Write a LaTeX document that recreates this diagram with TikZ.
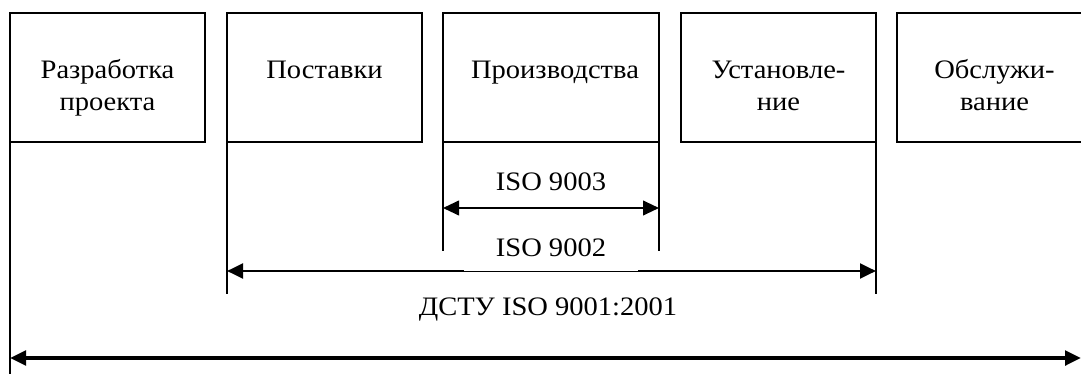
\documentclass[tikz,border=0pt]{standalone}
\usepackage{fontspec}
\setmainfont[FakeStretch=1.07]{Liberation Serif}
\usetikzlibrary{arrows.meta}
\begin{document}
\begin{tikzpicture}[x=0.75pt,y=-0.75pt,>={Triangle[length=12pt,width=11pt]},
  stage/.style={draw,line width=1.2pt,minimum width=146.25pt,minimum height=96.75pt,inner sep=0pt,outer sep=0pt},
  stagetxt/.style={anchor=base,align=center,inner sep=0pt,font=\fontsize{20}{24}\selectfont},
  lbl/.style={anchor=base,inner sep=0pt,font=\fontsize{20}{24}\selectfont},
  tick/.style={line width=1.1pt}]
\useasboundingbox (0,0) rectangle (1081,374);
\clip (0,0) rectangle (1081,374);
% этапы
    \node[stage] (razr) at (107.5,77.5) {};
    \node[stage] (post) at (324.5,77.5) {};
    \node[stage,minimum width=162pt] (proizv) at (551,77.5) {};
    \node[stage] (ustan) at (778.5,77.5) {};
    \node[stage] (obsl) at (994.5,77.5) {};
    \node[stagetxt] (razrT) at (107.5,110.5) {Разработка\\проекта};
    \node[stagetxt] (postT) at (324.5,78.5) {Поставки};
    \node[stagetxt] (proizvT) at (555,78.5) {Производства};
    \node[stagetxt] (ustanT) at (778.5,110.5) {Установле-\\ние};
    \node[stagetxt] (obslT) at (994.5,110.5) {Обслужи-\\вание};
% границы
    \coordinate (razrB) at (10,374);
    \coordinate (postB) at (227,294);
    \coordinate (proizvBl) at (443,251);
    \coordinate (proizvBr) at (659,251);
    \coordinate (ustanB) at (876,294);
    \draw[tick](razr.south west)--(razrB);
    \draw[tick](post.south west)--(postB);
    \draw[tick](proizv.south west)--(proizvBl);
    \draw[tick](proizv.south east)--(proizvBr);
    \draw[tick](ustan.south east)--(ustanB);
% стандарты
    \coordinate (s3l) at (443,208);
    \coordinate (s3r) at (659,208);
    \coordinate (s2l) at (227,271);
    \coordinate (s2r) at (876,271);
    \coordinate (s1l) at (10,358);
    \coordinate (s1r) at (1081,358);
    \draw[<->,line width=1.5pt](s3l)--(s3r);
    \draw[<->,line width=2.2pt](s2l)--(s2r);
    \draw[<->,line width=2.6pt](s1l)--(s1r);
    \node[lbl] (iso3) at (551,190.7) {ISO 9003};
    \node[lbl,fill=white,inner ysep=10.5pt,minimum width=131pt] (iso2) at (551,256.7) {ISO 9002};
    \node[lbl] (iso1) at (548,315) {ДСТУ ISO 9001:2001};
\end{tikzpicture}
\end{document}
